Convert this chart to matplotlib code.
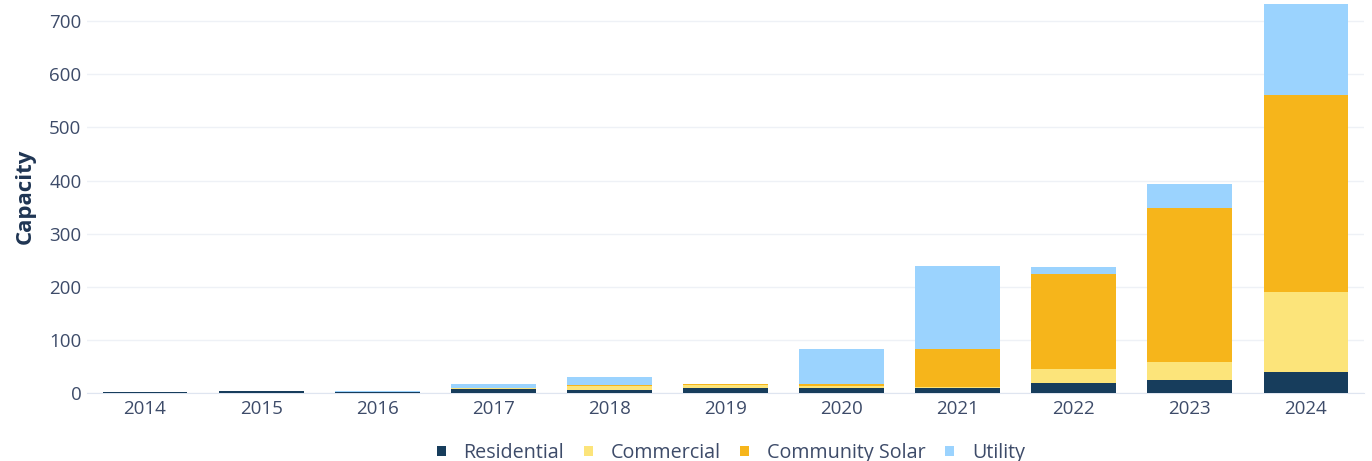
import matplotlib
matplotlib.use("Agg")
import matplotlib.pyplot as plt
import numpy as np

years = ["2014", "2015", "2016", "2017", "2018", "2019", "2020", "2021", "2022", "2023", "2024"]
residential = [1.5, 3, 2, 8, 6, 10, 9, 10, 18, 25, 40]
commercial = [0, 0, 0, 0.5, 8, 5, 4, 2, 28, 33, 151]
community_solar = [0, 0, 0, 0, 1, 2, 4, 71, 178, 290, 370]
utility = [0, 0, 1.5, 8, 16, 0, 65, 156, 14, 45, 171]

series = [
    ("Residential", residential, "#173d5c"),
    ("Commercial", commercial, "#fce47a"),
    ("Community Solar", community_solar, "#f6b51b"),
    ("Utility", utility, "#9bd3fe"),
]

plt.rcParams['font.family'] = ['Open Sans', 'DejaVu Sans']
text_color = "#3d4b69"

fig = plt.figure(figsize=(13.72, 4.61), dpi=100)
ax = fig.add_axes([87/1372, 1 - 393/461, (1364 - 87)/1372, 393/461])

x = np.arange(len(years))
bottom = np.zeros(len(years))
handles = []
for name, vals, color in series:
    v = np.array(vals, dtype=float)
    b = ax.bar(x, v, width=0.73, bottom=bottom, color=color, label=name,
               linewidth=0, zorder=3)
    handles.append(b)
    bottom += v

ax.set_xlim(-0.5, len(years) - 0.5)
ax.set_ylim(0, 740)
ax.set_yticks(range(0, 701, 100))
ax.set_xticks(x)
ax.set_xticklabels(years)
ax.grid(axis="y", color="#eef1f6", linewidth=1, zorder=0)
for s in ["top", "right", "left"]:
    ax.spines[s].set_visible(False)
ax.spines["bottom"].set_color("#dfe5f0")
ax.spines["bottom"].set_zorder(2)
ax.tick_params(axis="x", length=0, pad=5, labelsize=13.5, labelcolor=text_color)
ax.tick_params(axis="y", length=0, pad=4, labelsize=13.5, labelcolor=text_color)
ax.set_ylabel("Capacity", fontsize=16, fontweight="bold", color="#1f3553", labelpad=10)

leg = fig.legend(handles=handles, labels=[s[0] for s in series], loc="center",
                 bbox_to_anchor=(731/1372, 1 - 453/461), ncol=4, frameon=False,
                 fontsize=14.2, handlelength=0.45, handleheight=0.45, handletextpad=0.9,
                 columnspacing=1.0, labelcolor=text_color)

fig.savefig("out.png", dpi=100)
